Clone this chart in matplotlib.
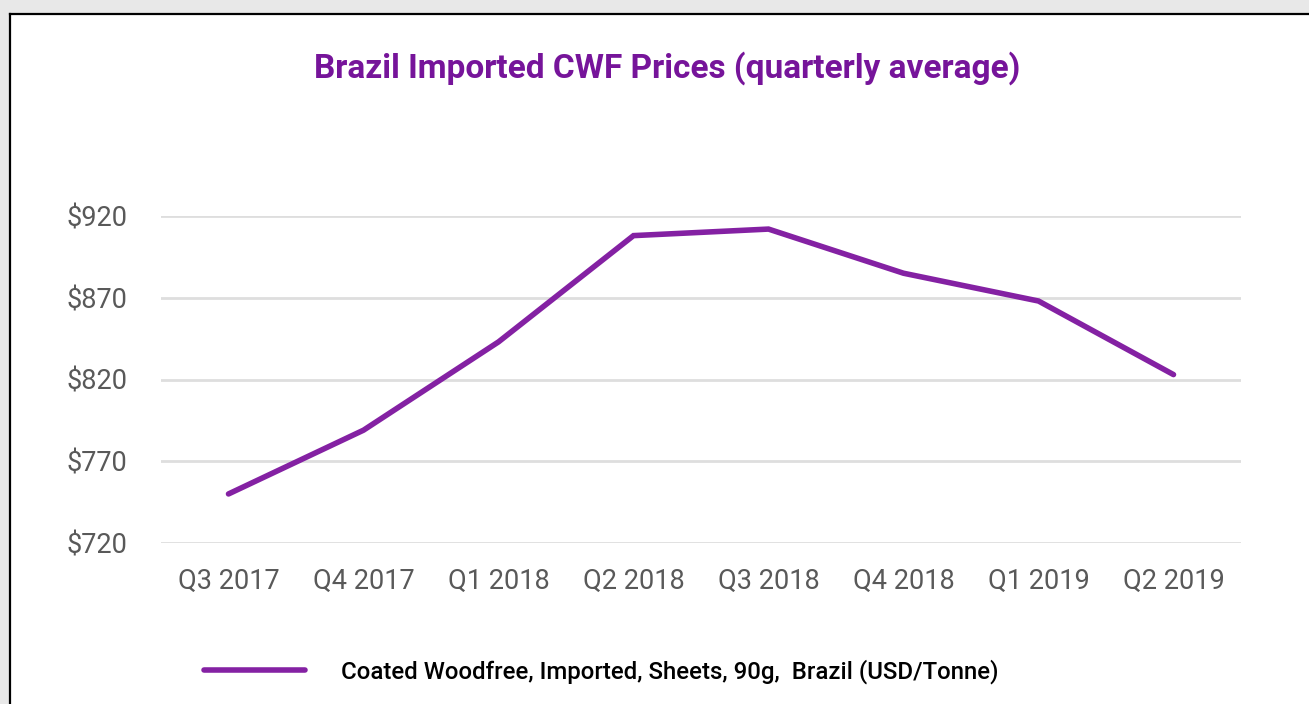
import matplotlib
matplotlib.use('Agg')
import matplotlib.pyplot as plt
from matplotlib.patches import Rectangle
from matplotlib.lines import Line2D

# quarterly average prices, USD/tonne
quarters = ['Q3 2017', 'Q4 2017', 'Q1 2018', 'Q2 2018',
            'Q3 2018', 'Q4 2018', 'Q1 2019', 'Q2 2019']
prices = [750, 789, 843, 908, 912, 885, 868, 823]
yticks = [720, 770, 820, 870, 920]
series_name = 'Coated Woodfree, Imported, Sheets, 90g,  Brazil (USD/Tonne)'

W, H = 1309, 704
fig = plt.figure(figsize=(W / 100, H / 100), dpi=100)
fig.patch.set_facecolor('#e8e8e8')

# white card with black top/left border
fig.patches.append(Rectangle((9.5 / W, 0), 1, (H - 13.5) / H, transform=fig.transFigure,
                             facecolor='white', edgecolor='none', zorder=-1))
fig.lines.append(Line2D([9.5 / W, 9.5 / W], [0, (H - 13.5) / H], transform=fig.transFigure,
                        color='black', lw=1.6))
fig.lines.append(Line2D([9.5 / W, 1], [(H - 13.5) / H, (H - 13.5) / H], transform=fig.transFigure,
                        color='black', lw=1.6))

ax = fig.add_axes([161 / W, (H - 543) / H, (1241 - 161) / W, (543 - 216) / H])
ax.set_facecolor('none')

x = range(len(quarters))
ax.plot(x, prices, color='#8421a3', lw=4.0, solid_joinstyle='miter',
        solid_capstyle='round', label=series_name, clip_on=False, zorder=3)

ax.set_xlim(-0.5, len(quarters) - 0.5)
ax.set_ylim(720, 920)
ax.set_yticks(yticks)
ax.set_yticklabels(['$' + str(v) for v in yticks])
ax.set_xticks(list(x))
ax.set_xticklabels(quarters)

for lab in ax.get_xticklabels() + ax.get_yticklabels():
    lab.set_family('Roboto')
    lab.set_fontsize(19.5)
    lab.set_color('#595959')
ax.tick_params(axis='both', length=0)
ax.tick_params(axis='y', pad=24)
ax.tick_params(axis='x', pad=18)

ax.grid(axis='y', color='#dedede', lw=2.0)
ax.set_axisbelow(True)
for s in ax.spines.values():
    s.set_visible(False)

fig.text(667 / W, (H - 68) / H, 'Brazil Imported CWF Prices (quarterly average)',
         ha='center', va='center', fontsize=24, fontweight='bold',
         color='#76149a', family='Roboto')

leg = fig.legend(loc='center left', bbox_to_anchor=(204 / W, (H - 672) / H),
                 frameon=False, borderpad=0, borderaxespad=0,
                 handlelength=4.2, handletextpad=1.5,
                 prop={'family': 'Roboto', 'size': 17.3, 'weight': 'medium'})

fig.savefig('out.png', dpi=100, facecolor=fig.get_facecolor())
